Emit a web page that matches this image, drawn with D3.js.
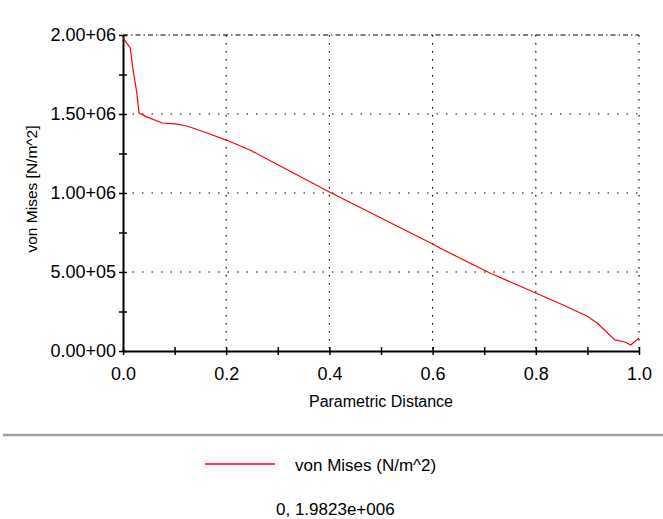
<!DOCTYPE html>
<html>
<head>
<meta charset="utf-8">
<script src="https://cdn.jsdelivr.net/npm/d3@7"></script>
<style>
  body { margin: 0; background: #fff; }
  text { font-family: "Liberation Sans", Arial, sans-serif; fill: #000; }
</style>
</head>
<body>
<div id="chart"></div>
<script>
// parametric distance vs von Mises stress
var distance = [0, 0.014, 0.019, 0.027, 0.031, 0.047, 0.076, 0.10, 0.124, 0.163, 0.2, 0.246, 0.29,
    0.324, 0.343, 0.4, 0.5, 0.6, 0.614, 0.672, 0.711, 0.8, 0.853, 0.899, 0.919, 0.953, 0.973, 0.984, 1.0];
var vonMises = [1982300, 1918000, 1790000, 1630000, 1506000, 1480000, 1443000, 1437000, 1424000,
    1380000, 1335000, 1272000, 1196000, 1138000, 1104000, 1006000, 842000, 677000, 652000, 557000,
    494000, 367000, 291000, 222000, 177000, 70000, 57000, 38000, 82000];

var xTicks = [0, 0.2, 0.4, 0.6, 0.8, 1.0];
var xMinor = [0, 0.1, 0.2, 0.3, 0.4, 0.5, 0.6, 0.7, 0.8, 0.9, 1.0];
var yTicks = [0, 500000, 1000000, 1500000, 2000000];
var yMinor = [0, 250000, 500000, 750000, 1000000, 1250000, 1500000, 1750000, 2000000];

var seriesName = "von Mises (N/m^2)";
var readout = "0, 1.9823e+006";

var svgWidth = 663;
var svgHeight = 519;

var margin = {top: 35, right: 24, bottom: 168, left: 123};
var width = svgWidth - margin.left - margin.right;
var height = svgHeight - margin.top - margin.bottom;

var svg = d3.select("#chart")
    .append("svg")
    .attr("width", svgWidth)
    .attr("height", svgHeight);

var chart = svg.append("g")
    .attr("transform", "translate(" + margin.left + "," + margin.top + ")");

var x = d3.scaleLinear().domain([0, 1]).range([0, width]);
var y = d3.scaleLinear().domain([0, 2000000]).range([height, 0]);

function sciFormat(v) {
    if (v === 0) return "0.00+00";
    var e = Math.floor(Math.log10(v));
    var m = v / Math.pow(10, e);
    return m.toFixed(2) + "+" + (e < 10 ? "0" + e : e);
}

// dotted grid
chart.append("g").selectAll("line")
    .data(xTicks.slice(1))
    .enter().append("line")
    .attr("x1", d => x(d)).attr("x2", d => x(d))
    .attr("y1", 0).attr("y2", height)
    .attr("stroke", "#000").attr("stroke-width", 1.2)
    .attr("stroke-dasharray", "1.5,6.5");

chart.append("g").selectAll("line")
    .data(yTicks.slice(1))
    .enter().append("line")
    .attr("x1", 0).attr("x2", width)
    .attr("y1", d => y(d)).attr("y2", d => y(d))
    .attr("stroke", "#000").attr("stroke-width", 1.2)
    .attr("stroke-dasharray", d => d === 2000000 ? "5,3,1.5,3" : "1.5,8");

// axes
var bottomAxis = d3.axisBottom(x).tickValues(xMinor).tickSizeInner(4).tickSizeOuter(0)
    .tickFormat(d => xTicks.indexOf(d) >= 0 ? d.toFixed(1) : "");
var leftAxis = d3.axisLeft(y).tickValues(yMinor).tickSizeInner(4).tickSizeOuter(0)
    .tickFormat(d => yTicks.indexOf(d) >= 0 ? sciFormat(d) : "");

var gx = chart.append("g")
    .attr("transform", "translate(0," + height + ")")
    .call(bottomAxis);
gx.select(".domain").attr("stroke-width", 2);
gx.selectAll(".tick line").attr("y1", -4).attr("y2", 4).attr("stroke-width", 1.5);
gx.selectAll(".tick text")
    .attr("y", 16)
    .style("font-size", "18px");

var gy = chart.append("g").call(leftAxis);
gy.select(".domain").attr("stroke-width", 2);
gy.selectAll(".tick line").attr("x1", -4).attr("x2", 4).attr("stroke-width", 1.5);
gy.selectAll(".tick text")
    .attr("x", -7)
    .style("font-size", "18px");
svg.selectAll(".domain").attr("stroke", "#000");

// the curve
var points = distance.map((d, i) => [d, vonMises[i]]);
chart.append("path")
    .datum(points)
    .attr("fill", "none")
    .attr("stroke", "#ff0000")
    .attr("stroke-width", 1.2)
    .attr("d", d3.line().x(d => x(d[0])).y(d => y(d[1])));

// axis titles
chart.append("text")
    .attr("x", width / 2)
    .attr("y", height + 56)
    .attr("text-anchor", "middle")
    .style("font-size", "16px")
    .text("Parametric Distance");

chart.append("text")
    .attr("transform", "rotate(-90)")
    .attr("x", -(189 - margin.top))
    .attr("y", -86)
    .attr("text-anchor", "middle")
    .style("font-size", "15.5px")
    .text("von Mises [N/m^2]");

// separator
svg.append("line")
    .attr("x1", 3).attr("x2", svgWidth)
    .attr("y1", 435).attr("y2", 435)
    .attr("stroke", "#a0a0a0").attr("stroke-width", 2.5);

// legend
svg.append("line")
    .attr("x1", 205).attr("x2", 275)
    .attr("y1", 464).attr("y2", 464)
    .attr("stroke", "#ff0000").attr("stroke-width", 1.3);

svg.append("text")
    .attr("x", 295)
    .attr("y", 471)
    .style("font-size", "17px")
    .text(seriesName);

svg.append("text")
    .attr("x", 276)
    .attr("y", 515)
    .style("font-size", "17px")
    .text(readout);
</script>
</body>
</html>
